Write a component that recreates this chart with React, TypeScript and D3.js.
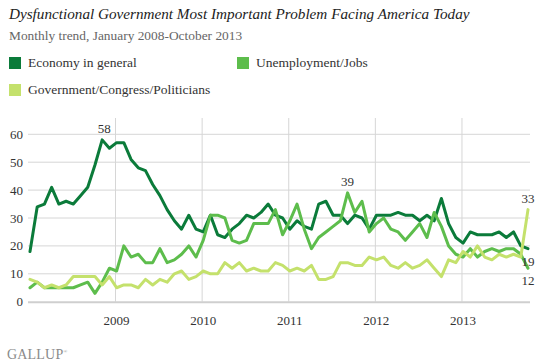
import React from "react";
import * as d3 from "d3";

const title = "Dysfunctional Government Most Important Problem Facing America Today";
const subtitle = "Monthly trend, January 2008-October 2013";
const seriesNames = ["Economy in general", "Unemployment/Jobs", "Government/Congress/Politicians"];
const colors = ["#0b7b3a", "#5dbd4c", "#c4e16c"];
const years = ["2009", "2010", "2011", "2012", "2013"];
const yTicks = [0, 10, 20, 30, 40, 50, 60];

const economy = [18, 34, 35, 41, 35, 36, 35, 38, 41, 49, 58, 55, 57, 57, 51, 48, 47, 42, 38, 33, 29, 26, 31, 26, 25, 31, 24, 23, 26, 28, 31, 30, 32, 35, 31, 30, 26, 29, 27, 26, 35, 36, 31, 31, 28, 31, 30, 26, 31, 31, 31, 32, 31, 31, 29, 31, 29, 37, 28, 23, 21, 25, 24, 24, 24, 25, 23, 25, 20, 19];
const unemployment = [5, 7, 5, 5, 5, 5, 5, 6, 7, 3, 7, 12, 11, 20, 16, 17, 14, 14, 19, 14, 15, 17, 20, 16, 22, 31, 31, 30, 22, 21, 22, 28, 28, 28, 33, 24, 29, 35, 26, 19, 23, 25, 27, 29, 39, 32, 36, 25, 28, 30, 26, 25, 22, 25, 28, 23, 32, 27, 20, 17, 16, 19, 16, 18, 19, 18, 19, 19, 17, 12];
const government = [8, 7, 5, 6, 5, 6, 9, 9, 9, 9, 6, 9, 5, 6, 6, 5, 8, 6, 8, 7, 10, 11, 8, 9, 11, 10, 10, 14, 12, 14, 11, 12, 11, 11, 14, 13, 11, 12, 11, 13, 8, 8, 9, 14, 14, 13, 13, 16, 15, 16, 13, 12, 14, 12, 13, 15, 12, 9, 15, 14, 18, 16, 20, 16, 15, 17, 16, 17, 16, 33];

const series = [economy, unemployment, government];

// value labels: [series index, point index, position]
const valueLabels: [number, number, "above" | "below"][] = [
  [0, 10, "above"],
  [1, 44, "above"],
  [2, 69, "above"],
  [0, 69, "below"],
  [1, 69, "below"],
];

const FONT = "'Liberation Serif', 'Times New Roman', serif";

export default function App() {
  const W = 537, H = 364;
  const x = d3.scaleLinear().domain([0, economy.length - 1]).range([30, 528]);
  const y = d3.scaleLinear().domain([0, 60]).range([301.7, 134.3]);
  const line = d3
    .line<number>()
    .x((_, i) => x(i))
    .y((d) => y(d));

  const gridLeft = 28, gridRight = 530;

  return (
    <svg
      width={W}
      height={H}
      style={{ position: "absolute", left: 0, top: 0, background: "#fff", fontFamily: FONT }}
    >
      <rect x={0} y={0} width={W} height={H} fill="#fff" />
      <text x={9} y={19} fontSize={15.2} fontStyle="italic" fill="#222">{title}</text>
      <text x={9} y={40} fontSize={13.4} fill="#666">{subtitle}</text>

      {/* legend */}
      {seriesNames.map((name, i) => {
        const lx = i === 1 ? 237 : 9;
        const ly = i === 2 ? 84 : 57;
        return (
          <g key={name}>
            <rect x={lx} y={ly} width={12} height={12} fill={colors[i]} />
            <text x={lx + 19} y={ly + 10} fontSize={13.5} fill="#333">{name}</text>
          </g>
        );
      })}

      {/* horizontal grid */}
      {yTicks.filter((t) => t > 0).map((t) => (
        <line key={t} x1={gridLeft} x2={gridRight} y1={y(t)} y2={y(t)} stroke="#d6d6d6" strokeWidth={1} />
      ))}
      {/* vertical year grid */}
      {years.map((yr, k) => {
        const gx = x(12 * (k + 1) - 0.15);
        return (
          <g key={yr}>
            <line x1={gx} x2={gx} y1={118} y2={y(0)} stroke="#d6d6d6" strokeWidth={1} />
            <text x={gx + 1} y={325} fontSize={13} textAnchor="middle" fill="#333">{yr}</text>
          </g>
        );
      })}
      {/* baseline */}
      <line x1={gridLeft} x2={gridRight} y1={y(0) + 0.5} y2={y(0) + 0.5} stroke="#cfcfcf" strokeWidth={2} />

      {/* y tick labels */}
      {yTicks.map((t) => (
        <text key={t} x={23} y={y(t)} dy="0.35em" fontSize={13} textAnchor="end" fill="#333">{t}</text>
      ))}

      {/* lines */}
      {series.map((s, i) => (
        <path
          key={i}
          d={line(s) || ""}
          fill="none"
          stroke={colors[i]}
          strokeWidth={3}
          strokeLinejoin="round"
          strokeLinecap="round"
        />
      ))}

      {/* value labels */}
      {valueLabels.map(([si, pi, pos], k) => {
        const v = series[si][pi];
        return (
          <text
            key={k}
            x={x(pi) + (pi === 10 ? 2 : 0)}
            y={pos === "above" ? y(v) - 7 : y(v) + 17}
            fontSize={13}
            textAnchor="middle"
            fill="#333"
          >
            {v}
          </text>
        );
      })}

      {/* logo */}
      <text x={7} y={359} fontSize={14} fill="#8a8a8a" letterSpacing={0.2}>
        GALLUP<tspan fontSize={5} dy={-6}>®</tspan>
      </text>
    </svg>
  );
}
